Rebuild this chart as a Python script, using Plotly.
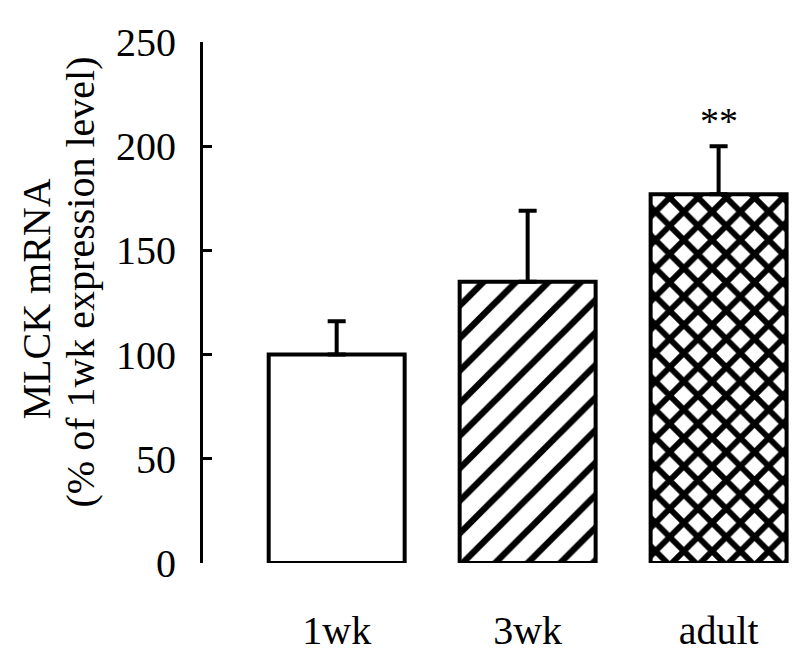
import plotly.graph_objects as go

categories = ["1wk", "3wk", "adult"]
values = [100, 135, 177]
errors_up = [16, 34, 23]
y_ticks = [0, 50, 100, 150, 200, 250]
significance = ["", "", "**"]

pattern_shapes = ["", "/", "x"]
pattern_solidity = [0.0, 0.28, 0.5]
pattern_size = [10, 23, 20]

FONT = "Liberation Serif, Times New Roman, serif"

fig = go.Figure()
fig.add_trace(go.Bar(
    x=categories,
    y=values,
    marker=dict(
        color="white",
        line=dict(color="black", width=4),
        pattern=dict(shape=pattern_shapes, fgcolor="black", bgcolor="white",
                     solidity=pattern_solidity, size=pattern_size, fillmode="replace"),
    ),
    error_y=dict(type="data", symmetric=False, array=errors_up,
                 arrayminus=[0] * len(values), color="black", thickness=4, width=9),
    showlegend=False,
))

for c, v, e, s in zip(categories, values, errors_up, significance):
    if s:
        fig.add_annotation(x=c, y=v + e, text=s, showarrow=False, yanchor="bottom",
                           yshift=2, font=dict(family=FONT, size=38, color="black"))

fig.add_annotation(xref="paper", yref="paper", x=0, y=0.5, xshift=-167, yshift=3,
                   xanchor="center", yanchor="middle", text="MLCK mRNA", textangle=-90,
                   showarrow=False, font=dict(family=FONT, size=40, color="black"))
fig.add_annotation(xref="paper", yref="paper", x=0, y=0.5, xshift=-123, yshift=20,
                   xanchor="center", yanchor="middle", text="(% of 1wk expression level)",
                   textangle=-90, showarrow=False, font=dict(family=FONT, size=40, color="black"))

fig.update_layout(
    width=800, height=667,
    margin=dict(l=195, r=13, t=22, b=112),
    paper_bgcolor="white", plot_bgcolor="white",
    bargap=0.288,
    font=dict(family=FONT, size=40, color="black"),
)
fig.update_xaxes(range=[-0.70, 2.40], showline=False, showgrid=False, zeroline=False,
                 ticks="", ticklabelstandoff=40, tickfont=dict(family=FONT, size=40, color="black"))
fig.update_yaxes(range=[0, 250], tickvals=y_ticks, showline=True, linecolor="black", linewidth=3,
                 ticks="inside", ticklen=9, tickwidth=3, tickcolor="black",
                 showgrid=False, zeroline=False, ticklabelstandoff=16,
                 tickfont=dict(family=FONT, size=40, color="black"))

fig.write_html("out.html")
